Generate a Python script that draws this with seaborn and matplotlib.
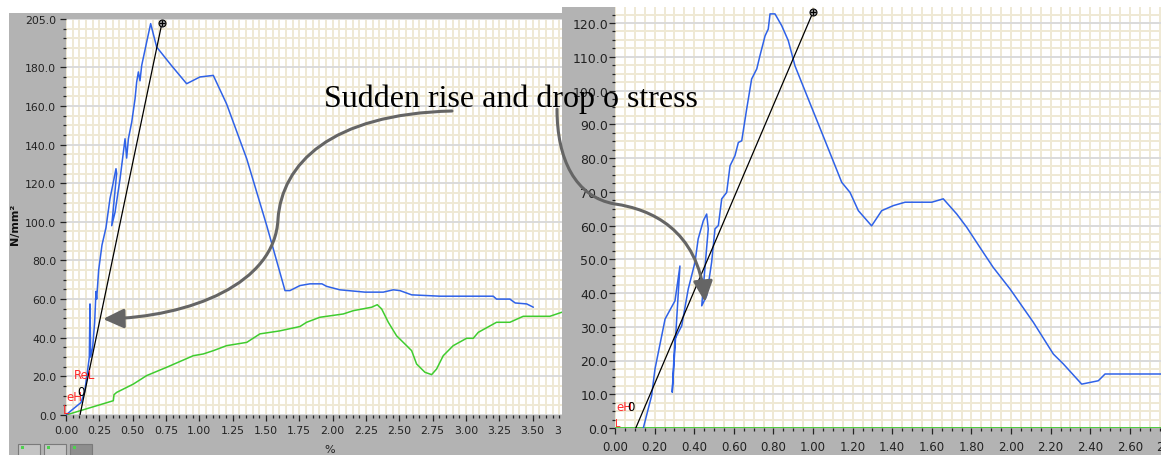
import matplotlib
matplotlib.use("Agg")
import matplotlib.pyplot as plt
import matplotlib.transforms as mtransforms
import seaborn as sns
from matplotlib.ticker import MultipleLocator, FixedLocator, FormatStrFormatter
from matplotlib.patches import Rectangle, FancyArrowPatch, ArrowStyle
from matplotlib.path import Path

sns.set_style("white")
plt.rcParams["font.family"] = ["DejaVu Sans"]

# ---- test 1: stress (N/mm²) and extension (%) ----
t1_strain = [0.00, 0.06, 0.112, 0.14, 0.16, 0.175, 0.18, 0.185, 0.20, 0.215, 0.225, 0.23,
             0.245, 0.27, 0.30, 0.33, 0.355, 0.375, 0.38, 0.343, 0.368, 0.405, 0.443, 0.455,
             0.468, 0.493, 0.518, 0.53, 0.543, 0.555, 0.568, 0.605, 0.635, 0.68, 0.79, 0.905,
             1.005, 1.105, 1.205, 1.356, 1.506, 1.555, 1.643, 1.68, 1.755, 1.83, 1.92, 1.955,
             2.055, 2.243, 2.38, 2.455, 2.505, 2.593, 2.806, 3.205, 3.23, 3.33, 3.37, 3.456, 3.506]
t1_stress = [0, 3.5, 6.4, 12, 22, 30, 57.5, 30, 35, 48, 64, 60,
             75, 88, 97, 112, 120.5, 127.5, 125, 98, 105, 122, 143, 133,
             143, 151.6, 163.7, 172.3, 177.6, 173, 181, 193, 202.6, 190.5, 181, 171.5,
             175, 175.8, 161, 132.6, 98, 86, 64.4, 64.4, 67, 67.9, 67.9, 66.6,
             64.8, 63.6, 63.6, 64.8, 64.4, 62.2, 61.5, 61.5, 60, 60, 58, 57.5, 55.8]
t1_aux_x = [0, 0.355, 0.36, 0.38, 0.505, 0.605, 0.755, 0.955, 1.03, 1.105, 1.205, 1.356, 1.455,
            1.60, 1.755, 1.805, 1.905, 2.08, 2.155, 2.293, 2.335, 2.368, 2.418, 2.48, 2.555,
            2.593, 2.63, 2.693, 2.743, 2.78, 2.83, 2.905, 3.005, 3.055, 3.093, 3.23, 3.33,
            3.43, 3.63, 3.72]
t1_aux_y = [0, 7.4, 10.5, 11.7, 16, 20.4, 24.7, 30.7, 31.6, 33.3, 35.9, 37.6, 42,
            43.5, 45.8, 48, 50.6, 52.3, 54, 55.8, 57.1, 54.9, 48, 41, 35.9,
            33.3, 26.4, 22.1, 20.9, 23.8, 30.7, 35.9, 39.7, 39.7, 42.8, 48, 48,
            51.1, 51.1, 53.2]
t1_modulus_x = [0.105, 0.72]
t1_modulus_y = [0, 203]
t1_yticks = [0, 20, 40, 60, 80, 100, 120, 140, 160, 180, 205]

# ---- test 2 ----
t2_strain = [0.143, 0.185, 0.202, 0.253, 0.303, 0.328, 0.289, 0.297, 0.303, 0.337, 0.37, 0.404,
             0.42, 0.446, 0.463, 0.471, 0.438, 0.463, 0.488, 0.505, 0.522, 0.539, 0.564, 0.581,
             0.606, 0.623, 0.64, 0.665, 0.69, 0.716, 0.732, 0.758, 0.774, 0.783, 0.808, 0.842,
             0.875, 0.909, 0.976, 1.044, 1.145, 1.187, 1.229, 1.296, 1.347, 1.406, 1.465, 1.60,
             1.658, 1.726, 1.776, 1.86, 1.91, 1.995, 2.113, 2.214, 2.264, 2.357, 2.374, 2.441,
             2.475, 2.83]
t2_stress = [0, 9.6, 17.5, 32.3, 37.7, 48, 10.6, 20, 26.4, 30.3, 41.2, 49.1,
             56, 61.4, 63.4, 59, 36.2, 39.2, 49.1, 59, 60, 67.9, 69.8, 77.7,
             80.7, 84.6, 85.1, 94.5, 103.4, 106.4, 110.3, 116.2, 118.2, 122.7, 122.7, 119.2,
             114.8, 107.3, 97.5, 87.6, 72.8, 69.8, 64.4, 59.9, 64.4, 65.9, 66.9, 66.9,
             67.9, 63.4, 59.5, 52, 47.6, 41.2, 31.3, 21.9, 19, 13, 13.2, 14,
             16, 16]
t2_aux_x = [0.0, 2.83]
t2_aux_y = [0.0, 0.0]
t2_modulus_x = [0.105, 1.0]
t2_modulus_y = [0, 123.2]

note_text = "Sudden rise and drop o stress"

W, H = 1161, 456
PANEL_GREY = "#b3b3b3"
CREAM = "#efe9d4"
MAJOR_GRID = "#dadada"
BLUE = "#2f62e8"
GREEN = "#3fcc2f"
RED = "#ff2a2a"
ARROW_GREY = "#656565"

fig = plt.figure(figsize=(W / 100, H / 100), dpi=100, facecolor="white")
# pixel coordinates with the origin at the top-left corner
px = mtransforms.Affine2D().scale(1 / W, -1 / H).translate(0, 1) + fig.transFigure


def box(x0, y0, x1, y1):
    return [x0 / W, 1 - y1 / H, (x1 - x0) / W, (y1 - y0) / H]


# window backgrounds
fig.add_artist(Rectangle((9, 14), 553, 442, transform=px, facecolor=PANEL_GREY,
                         edgecolor="none", zorder=-5))
fig.add_artist(Rectangle((562, 8), 599, 448, transform=px, facecolor=PANEL_GREY,
                         edgecolor="none", zorder=0.5))
# small toolbar buttons
for i, bx in enumerate([18, 44, 70]):
    fig.add_artist(Rectangle((bx, 445), 22, 12, transform=px,
                             facecolor="#8e8e8e" if i == 2 else "#c4c4c4",
                             edgecolor="#7a7a7a", lw=0.8, zorder=-4))
    fig.add_artist(Rectangle((bx + 3, 447), 3, 3, transform=px, facecolor="#4fd04f",
                             edgecolor="none", zorder=-3))

ax1 = fig.add_axes(box(66, 20, 600, 416), zorder=0)
ax2 = fig.add_axes(box(615, 8, 1180, 429), zorder=1)


def style(ax, xmaj, xmin, ymaj, ymin, xfmt, yfmt, xsize, ysize, xpad, ypad):
    ax.set_facecolor("white")
    for s in ax.spines.values():
        s.set_visible(False)
    ax.xaxis.set_major_locator(MultipleLocator(xmaj))
    ax.xaxis.set_minor_locator(MultipleLocator(xmin))
    ax.yaxis.set_major_locator(ymaj)
    ax.yaxis.set_minor_locator(MultipleLocator(ymin))
    ax.xaxis.set_major_formatter(FormatStrFormatter(xfmt))
    ax.yaxis.set_major_formatter(FormatStrFormatter(yfmt))
    ax.set_axisbelow(True)
    ax.grid(which="minor", color=CREAM, lw=1.4)
    ax.xaxis.grid(which="major", color=CREAM, lw=1.4)
    ax.yaxis.grid(which="major", color=MAJOR_GRID, lw=1.4)
    ax.tick_params(which="major", direction="out", length=4, width=0.9, color="#222222",
                   labelcolor="#222222", bottom=True, left=True)
    ax.tick_params(which="minor", direction="out", length=2.5, width=0.9, color="#222222",
                   bottom=True, left=True)
    ax.tick_params(axis="x", labelsize=xsize, pad=xpad)
    ax.tick_params(axis="y", labelsize=ysize, pad=ypad)
    ax.set_xlabel("")
    ax.set_ylabel("")


# ---- left chart ----
sns.lineplot(x=t1_aux_x, y=t1_aux_y, sort=False, estimator=None, color=GREEN, lw=1.1, ax=ax1)
sns.lineplot(x=t1_strain, y=t1_stress, sort=False, estimator=None, color=BLUE, lw=1.1, ax=ax1)
sns.lineplot(x=t1_modulus_x, y=t1_modulus_y, sort=False, estimator=None, color="black",
             lw=0.9, ax=ax1)
ax1.plot(t1_modulus_x[-1:], t1_modulus_y[-1:], marker="o", ms=5, mfc="#9a9a9a", mec="black",
         mew=0.8, clip_on=False, zorder=6)
ax1.plot(t1_modulus_x[-1:], t1_modulus_y[-1:], marker="+", ms=5, mec="black", mew=0.8,
         clip_on=False, zorder=7)
ax1.set_xlim(0, (600 - 66) / 133.3)
ax1.set_ylim(0, 205)
style(ax1, 0.25, 0.05, FixedLocator(t1_yticks), 5, "%.2f", "%.1f", 7.8, 7.8, 3.5, 3)
ax1.text(0.06, 21, "ReL", color=RED, fontsize=8.5, va="center", ha="left", zorder=8)
ax1.text(0.005, 9.5, "eH", color=RED, fontsize=8.5, va="center", ha="left", zorder=8)
ax1.text(0.085, 12, "0", color="black", fontsize=8.5, va="center", ha="left", zorder=8)
ax1.text(-0.02, 3, "L", color=RED, fontsize=8.5, va="center", ha="left", zorder=8,
         clip_on=False)

fig.text(330 / W, 1 - 450 / H, "%", fontsize=8, ha="center", va="center", color="#222222")
fig.text(15 / W, 1 - 224 / H, "N/mm²", fontsize=8, weight="bold", rotation=90,
         ha="center", va="center", color="#111111")

# ---- right chart ----
sns.lineplot(x=t2_aux_x, y=t2_aux_y, sort=False, estimator=None, color=GREEN, lw=2.0, ax=ax2)
sns.lineplot(x=t2_strain, y=t2_stress, sort=False, estimator=None, color=BLUE, lw=1.1, ax=ax2)
sns.lineplot(x=t2_modulus_x, y=t2_modulus_y, sort=False, estimator=None, color="black",
             lw=0.9, ax=ax2)
ax2.plot(t2_modulus_x[-1:], t2_modulus_y[-1:], marker="o", ms=5, mfc="#9a9a9a", mec="black",
         mew=0.8, clip_on=False, zorder=6)
ax2.plot(t2_modulus_x[-1:], t2_modulus_y[-1:], marker="+", ms=5, mec="black", mew=0.8,
         clip_on=False, zorder=7)
ax2.set_xlim(0, (1180 - 615) / 198)
ax2.set_ylim(0, (429 - 8) / 3.375)
style(ax2, 0.2, 0.05, MultipleLocator(10), 2.5, "%.2f", "%.1f", 8.5, 9, 4.5, 1)
ax2.text(0.005, 6.5, "eH", color=RED, fontsize=8.5, va="center", ha="left", zorder=8)
ax2.text(0.06, 6.5, "0", color="black", fontsize=8.5, va="center", ha="left", zorder=8)
ax2.text(0.0, 1.5, "L", color=RED, fontsize=7, va="center", ha="left", zorder=8)

# ---- annotation ----
fig.text(511 / W, 1 - 107 / H, note_text, family="Liberation Serif", fontsize=23,
         ha="center", va="baseline", color="black", zorder=20)

head = ArrowStyle("-|>", head_length=0.9, head_width=0.42)
curve1 = Path([(452, 112), (330, 115), (282, 165), (278, 220),
               (275, 285), (190, 318), (103, 320)],
              [Path.MOVETO, Path.CURVE4, Path.CURVE4, Path.CURVE4,
               Path.CURVE4, Path.CURVE4, Path.CURVE4])
curve2 = Path([(557, 110), (557, 160), (575, 198), (615, 205),
               (650, 210), (698, 230), (705, 303)],
              [Path.MOVETO, Path.CURVE4, Path.CURVE4, Path.CURVE4,
               Path.CURVE4, Path.CURVE4, Path.CURVE4])
for c in (curve1, curve2):
    fig.add_artist(FancyArrowPatch(path=c, arrowstyle=head, mutation_scale=14,
                                   transform=px, color=ARROW_GREY, lw=2.2, zorder=20))

fig.savefig("out.png", dpi=100, facecolor="white")
